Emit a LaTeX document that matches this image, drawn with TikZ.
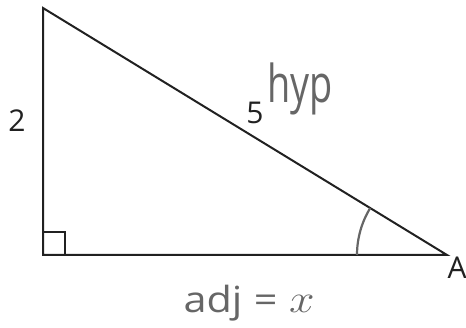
\documentclass[tikz,border=0pt]{standalone}
\usepackage{fontspec}
\setmainfont{Open Sans}
\usetikzlibrary{positioning}
\definecolor{edgeink}{rgb}{0.13,0.13,0.13}
\definecolor{penink}{rgb}{0.40,0.40,0.40}

\begin{document}
\begin{tikzpicture}[x=1pt,y=-1pt,
   side/.style={draw=edgeink,line width=2pt},
   lbl/.style={font=\fontsize{30}{34}\selectfont,text=edgeink,inner sep=0pt},
   hand/.style={font=\fontsize{36}{40}\selectfont,text=penink,inner sep=0pt}]
  \useasboundingbox (0,0) rectangle (466,328);
  \coordinate (top) at (43,8);
  \coordinate (rt)  at (43,255);
  \coordinate (A)   at (447,255);
  \draw[side,line join=miter] (top) -- (rt) -- (A) -- cycle;
  % right angle mark and angle at A
  \draw[side,line width=1.5pt] ([yshift=23pt]rt) -| ([xshift=22pt]rt);
  \draw[penink,line width=2.2pt] ([xshift=-90pt]A) arc[start angle=180,end angle=148.6,radius=90pt];
  \node[lbl] (two)  at (17,121) {2};
  \node[lbl] (five) at (255,113) {5};
  \node[lbl] (vA)   at (457,268) {A};
  \node[hand,anchor=base,xscale=1.05,yscale=1.45,transform shape] (hyp) at (300,103) {hyp};
  \node[hand,anchor=base,xscale=1.15,transform shape] (adj) at (249,313) {adj\;=\;\scalebox{1.6}{$x$}};
\end{tikzpicture}
\end{document}
